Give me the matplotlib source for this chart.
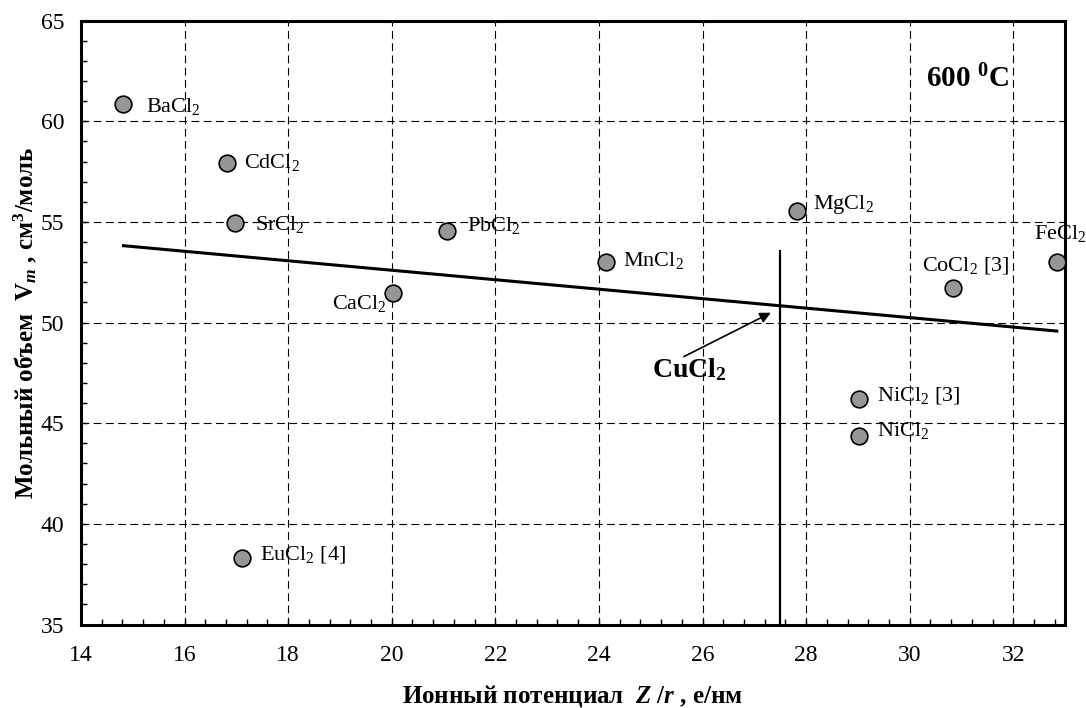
import matplotlib
matplotlib.use("Agg")
import matplotlib.pyplot as plt
from matplotlib.ticker import MultipleLocator

plt.rcParams['font.family'] = ['Liberation Serif', 'DejaVu Serif']
plt.rcParams['mathtext.fontset'] = 'custom'
plt.rcParams['mathtext.rm'] = 'Liberation Serif'
plt.rcParams['mathtext.it'] = 'Liberation Serif:italic:bold'
plt.rcParams['mathtext.bf'] = 'Liberation Serif:bold'

# Ionic potential Z/r (e/nm) and molar volume Vm (cm3/mol) at 600 C
salts = ['BaCl$_2$', 'CdCl$_2$', 'SrCl$_2$', 'CaCl$_2$', 'PbCl$_2$', 'MnCl$_2$',
         'MgCl$_2$', 'CoCl$_2$ [3]', 'FeCl$_2$', 'NiCl$_2$ [3]', 'NiCl$_2$', 'EuCl$_2$ [4]']
ionic_potential = [14.82, 16.82, 16.98, 20.03, 21.07, 24.14,
                   27.82, 30.83, 32.84, 29.03, 29.03, 17.11]
molar_volume = [60.86, 57.92, 54.97, 51.49, 54.55, 53.00,
                55.56, 51.71, 53.03, 46.19, 44.37, 38.31]

# label offsets in pixels (dx, dy) and horizontal alignment
label_offsets = [(23, -8), (17, -5), (20, -7), (-7, -16), (20, 0), (17, -4),
                 (16, 2), (-31, 18), (-23, 23), (18, -1), (18, 0), (18, -2)]
label_ha = ['left', 'left', 'left', 'right', 'left', 'left',
            'left', 'left', 'left', 'left', 'left', 'left']

# linear trend across the data range
trend_x = [14.82, 32.84]
trend_y = [53.82, 49.58]

# estimated position of CuCl2
cucl2_x = 27.49
cucl2_line_top = 53.56
cucl2_point = (27.32, 50.49)
cucl2_text = (25.03, 47.31)
arrow_tail = (25.64, 48.31)

fig = plt.figure(figsize=(10.86, 7.08), dpi=100)
ax = fig.add_axes([0.0746, 0.1179, 0.9061, 0.8529])

ax.set_xlim(14, 33)
ax.set_ylim(35, 65)
ax.xaxis.set_major_locator(MultipleLocator(2))
ax.xaxis.set_minor_locator(MultipleLocator(0.4))
ax.yaxis.set_major_locator(MultipleLocator(5))
ax.yaxis.set_minor_locator(MultipleLocator(1))

ax.grid(True, which='major', color='black', linestyle=(0, (7, 4)), linewidth=0.8, zorder=0)
ax.set_axisbelow(True)

for sp in ax.spines.values():
    sp.set_linewidth(2.2)

ax.tick_params(which='both', direction='in', top=False, right=False,
               labelsize=17, width=1.0, length=4.5)
ax.tick_params(axis='x', which='major', pad=15)
ax.tick_params(axis='y', which='major', pad=12)

ax.plot(trend_x, trend_y, color='black', linewidth=2.2, zorder=3)
ax.plot([cucl2_x, cucl2_x], [35, cucl2_line_top], color='black', linewidth=1.6, zorder=3)

ax.plot(ionic_potential, molar_volume, linestyle='none', marker='o', markersize=12,
        markerfacecolor='#969696', markeredgecolor='black', markeredgewidth=1.2,
        zorder=4, clip_on=False)

for name, x, y, (dx, dy), ha in zip(salts, ionic_potential, molar_volume, label_offsets, label_ha):
    ax.annotate(name, xy=(x, y), xytext=(dx, dy), textcoords='offset pixels',
                ha=ha, va='baseline', fontsize=16, annotation_clip=False)

ax.annotate('', xy=cucl2_point, xytext=arrow_tail,
            arrowprops=dict(arrowstyle='-|>', color='black', lw=1.2,
                            mutation_scale=16, shrinkA=0, shrinkB=0), zorder=5)
ax.text(cucl2_text[0], cucl2_text[1], r'CuCl$_\mathbf{2}$', fontsize=20,
        fontweight='bold', ha='left', va='baseline')

ax.text(30.32, 61.69, r'600 $^\mathbf{0}$C', fontsize=21, fontweight='bold',
        ha='left', va='baseline')

ax.set_xlabel(r'Ионный потенциал  $Z$ /$r$ , е/нм', fontsize=18, fontweight='bold')
ax.set_ylabel(r'Мольный объем  $\mathbf{V}_{m}$ , см$^\mathbf{3}$/моль', fontsize=18,
              fontweight='bold')
ax.xaxis.set_label_coords(0.5, -0.097)
ax.yaxis.set_label_coords(-0.043, 0.5)

fig.savefig('out.png', dpi=100)
